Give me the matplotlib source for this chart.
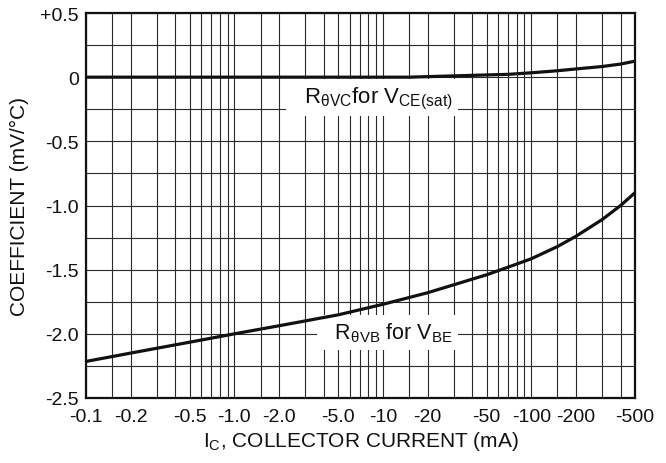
import matplotlib
matplotlib.use('Agg')
import matplotlib.pyplot as plt
from matplotlib.ticker import LogLocator, MultipleLocator, NullFormatter

plt.rcParams['font.family'] = ['Liberation Sans', 'DejaVu Sans']
plt.rcParams['mathtext.fontset'] = 'custom'
plt.rcParams['mathtext.rm'] = 'Liberation Sans'
plt.rcParams['mathtext.it'] = 'Liberation Sans'
plt.rcParams['mathtext.default'] = 'regular'

# collector current (mA, magnitude) and temperature coefficients (mV/C)
ic_vce = [0.1, 1.0, 10, 15, 30, 70, 100, 150, 200, 300, 400, 500]
coef_vce = [0.0, 0.0, 0.0, 0.0, 0.01, 0.022, 0.034, 0.05, 0.064, 0.083, 0.102, 0.125]

ic_vbe = [0.1, 0.2, 0.5, 1.0, 2.0, 5.0, 10, 20, 50, 70, 100, 150, 200, 300, 400, 500]
coef_vbe = [-2.215, -2.15, -2.065, -2.0, -1.937, -1.852, -1.77, -1.68, -1.54,
            -1.48, -1.415, -1.32, -1.24, -1.11, -1.0, -0.9]

xticks = [0.1, 0.2, 0.5, 1, 2, 5, 10, 20, 50, 100, 200, 500]
xlabels = ['-0.1', '-0.2', '-0.5', '-1.0', '-2.0', '-5.0', '-10', '-20', '-50',
           '-100', '-200', '-500']
yticks = [-2.5, -2.0, -1.5, -1.0, -0.5, 0, 0.5]
ylabels = ['-2.5', '-2.0', '-1.5', '-1.0', '-0.5', '0', '+0.5']

fig = plt.figure(figsize=(6.66, 4.64), dpi=100)
ax = fig.add_axes([86/666, 1-399/464, (635-86)/666, (399-14)/464])

ax.plot(ic_vce, coef_vce, color='#111111', lw=2.3, zorder=4)
ax.plot(ic_vbe, coef_vbe, color='#111111', lw=2.3, zorder=4)

ax.set_xscale('log')
ax.set_xlim(0.1, 500)
ax.set_ylim(-2.5, 0.5)
ax.set_xticks(xticks, xlabels)
ax.set_yticks(yticks, ylabels)
ax.xaxis.set_minor_locator(LogLocator(base=10, subs=[1.5, 2, 3, 4, 5, 6, 7, 8, 9]))
ax.xaxis.set_minor_formatter(NullFormatter())
ax.yaxis.set_minor_locator(MultipleLocator(0.25))
ax.grid(which='both', color='#2a2a2a', lw=0.8)
ax.set_axisbelow(True)
ax.tick_params(which='both', length=0, labelsize=14, colors='#111111')
ax.tick_params(axis='x', pad=7)
ax.tick_params(axis='y', pad=5)
for s in ax.spines.values():
    s.set_linewidth(1.6)
    s.set_color('#111111')

box = dict(facecolor='white', edgecolor='none', pad=4)
ax.text(29.5, -0.16, r'  $R_{θVC}$for $V_{CE(sat)}$', ha='right', va='center',
        fontsize=16, color='#111111', bbox=box, zorder=3)
ax.text(29.5, -1.99, r'  $R_{θVB}$ for $V_{BE}$', ha='right', va='center',
        fontsize=15.5, color='#111111', bbox=box, zorder=3)

ax.set_xlabel(r'$I_C$, COLLECTOR CURRENT (mA)', fontsize=15, color='#111111', labelpad=3)
ax.set_ylabel('COEFFICIENT (mV/°C)', fontsize=15, color='#111111', labelpad=8)

fig.savefig('out.png', dpi=100)
